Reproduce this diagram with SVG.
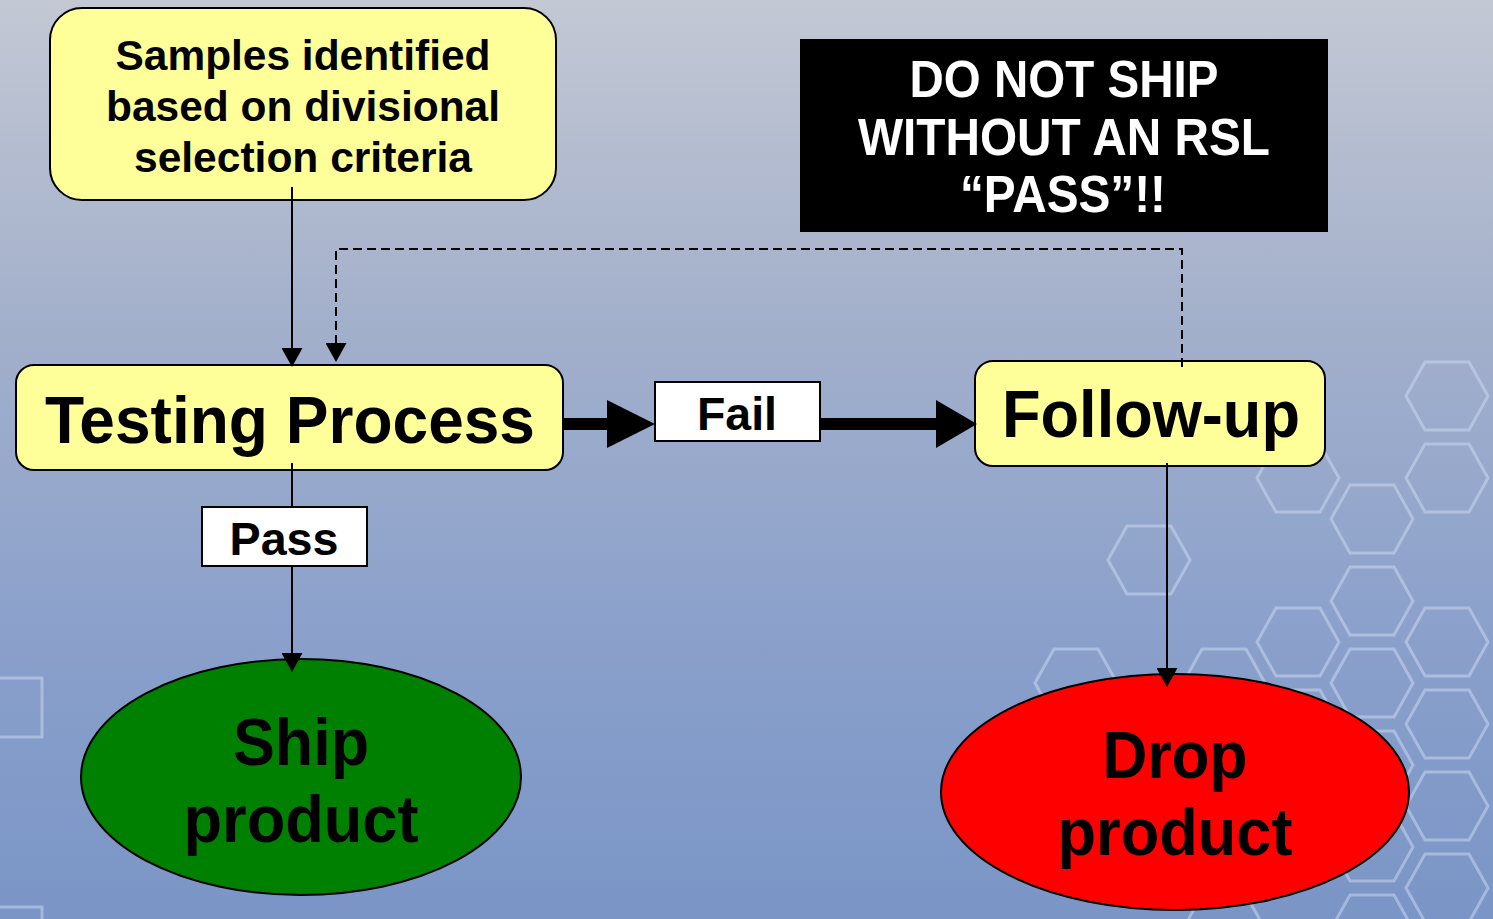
<svg xmlns="http://www.w3.org/2000/svg" xmlns:xlink="http://www.w3.org/1999/xlink" width="1493" height="919" viewBox="0 0 1493 919">
<style>
.t{font-family:"Liberation Sans",Arial,sans-serif;font-weight:bold;fill:#000;text-anchor:middle}
.w{fill:#fff}
.box{fill:#ffff99;stroke:#000;stroke-width:2}
.lbl{fill:#fff;stroke:#000;stroke-width:2}
.hex{fill:none;stroke:#cfdcf3;stroke-opacity:0.5;stroke-width:3}
.ln{fill:none;stroke:#000;stroke-width:2}
.dash{fill:none;stroke:#000;stroke-width:2;stroke-dasharray:9 5}
</style>
<defs>
<linearGradient id="bg" x1="0" y1="0" x2="0" y2="1">
<stop offset="0" stop-color="#c3c8d4"/>
<stop offset="0.35" stop-color="#a3b0cb"/>
<stop offset="0.7" stop-color="#8aa0cb"/>
<stop offset="1" stop-color="#7a95c6"/>
</linearGradient>
<polygon id="hx" points="-41,0 -22,-34 22,-34 41,0 22,34 -22,34"/>
<marker id="ah" viewBox="0 0 19 21" refX="15" refY="10.5" markerWidth="19" markerHeight="21" markerUnits="userSpaceOnUse" orient="auto">
<polygon points="0,0 19,10.5 0,21" fill="#000"/>
</marker>
</defs>
<rect width="1493" height="919" fill="url(#bg)"/>
<g id="pattern" class="hex">
<use xlink:href="#hx" x="1447" y="396"/>
<use xlink:href="#hx" x="1447" y="478"/>
<use xlink:href="#hx" x="1447" y="642"/>
<use xlink:href="#hx" x="1447" y="724"/>
<use xlink:href="#hx" x="1447" y="806"/>
<use xlink:href="#hx" x="1447" y="888"/>
<use xlink:href="#hx" x="1372" y="519"/>
<use xlink:href="#hx" x="1372" y="601"/>
<use xlink:href="#hx" x="1372" y="683"/>
<use xlink:href="#hx" x="1372" y="765"/>
<use xlink:href="#hx" x="1372" y="847"/>
<use xlink:href="#hx" x="1372" y="929"/>
<use xlink:href="#hx" x="1298" y="478"/>
<use xlink:href="#hx" x="1298" y="642"/>
<use xlink:href="#hx" x="1298" y="724"/>
<use xlink:href="#hx" x="1224" y="683"/>
<use xlink:href="#hx" x="1224" y="929"/>
<use xlink:href="#hx" x="1149" y="560"/>
<use xlink:href="#hx" x="1076" y="683"/>
<rect x="-10" y="678" width="52" height="59"/>
<rect x="-10" y="907" width="52" height="40"/>
</g>
<g id="samples">
<rect class="box" x="50" y="8" width="506" height="192" rx="32"/>
<text class="t" font-size="43" x="303" y="70" textLength="375" lengthAdjust="spacingAndGlyphs">Samples identified</text>
<text class="t" font-size="43" x="303" y="121" textLength="394" lengthAdjust="spacingAndGlyphs">based on divisional</text>
<text class="t" font-size="43" x="303" y="172" textLength="338" lengthAdjust="spacingAndGlyphs">selection criteria</text>
</g>
<g id="warning">
<rect x="800" y="39" width="528" height="193" fill="#000"/>
<text class="t w" font-size="51" x="1064" y="97" textLength="309" lengthAdjust="spacingAndGlyphs">DO NOT SHIP</text>
<text class="t w" font-size="51" x="1064" y="155" textLength="412" lengthAdjust="spacingAndGlyphs">WITHOUT AN RSL</text>
<text class="t w" font-size="51" x="1063" y="212" textLength="206" lengthAdjust="spacingAndGlyphs">“PASS”!!</text>
</g>
<g id="testing">
<rect class="box" x="16" y="365" width="547" height="105" rx="18"/>
<text class="t" font-size="66" x="290" y="443" textLength="490" lengthAdjust="spacingAndGlyphs">Testing Process</text>
</g>
<g id="followup">
<rect class="box" x="975" y="361" width="350" height="105" rx="18"/>
<text class="t" font-size="66" x="1151" y="437" textLength="298" lengthAdjust="spacingAndGlyphs">Follow-up</text>
</g>
<g id="ship">
<ellipse cx="301" cy="777" rx="220" ry="118" fill="#008000" stroke="#000" stroke-width="2"/>
<text class="t" font-size="66" x="301" y="765" textLength="136" lengthAdjust="spacingAndGlyphs">Ship</text>
<text class="t" font-size="66" x="301" y="842" textLength="235" lengthAdjust="spacingAndGlyphs">product</text>
</g>
<g id="drop">
<ellipse cx="1175" cy="792" rx="234" ry="118" fill="#ff0000" stroke="#000" stroke-width="2"/>
<text class="t" font-size="66" x="1175" y="778" textLength="145" lengthAdjust="spacingAndGlyphs">Drop</text>
<text class="t" font-size="66" x="1175" y="855" textLength="235" lengthAdjust="spacingAndGlyphs">product</text>
</g>
<g id="connectors">
<line class="ln" x1="292" y1="187" x2="292" y2="363" marker-end="url(#ah)"/>
<polyline class="dash" points="1182,367 1182,249 336,249 336,358" marker-end="url(#ah)"/>
<line class="ln" x1="292" y1="463" x2="292" y2="668" marker-end="url(#ah)"/>
<line class="ln" x1="1167" y1="463" x2="1167" y2="683" marker-end="url(#ah)"/>
<polygon points="563,418 607,418 607,400 655,424 607,448 607,430 563,430" fill="#000"/>
<polygon points="820,418 936,418 936,400 977,424 936,448 936,430 820,430" fill="#000"/>
</g>
<g id="fail">
<rect class="lbl" x="655" y="382" width="165" height="59"/>
<text class="t" font-size="47" x="737" y="430" textLength="80" lengthAdjust="spacingAndGlyphs">Fail</text>
</g>
<g id="pass">
<rect class="lbl" x="202" y="507" width="165" height="59"/>
<text class="t" font-size="47" x="284" y="555" textLength="109" lengthAdjust="spacingAndGlyphs">Pass</text>
</g>
</svg>
